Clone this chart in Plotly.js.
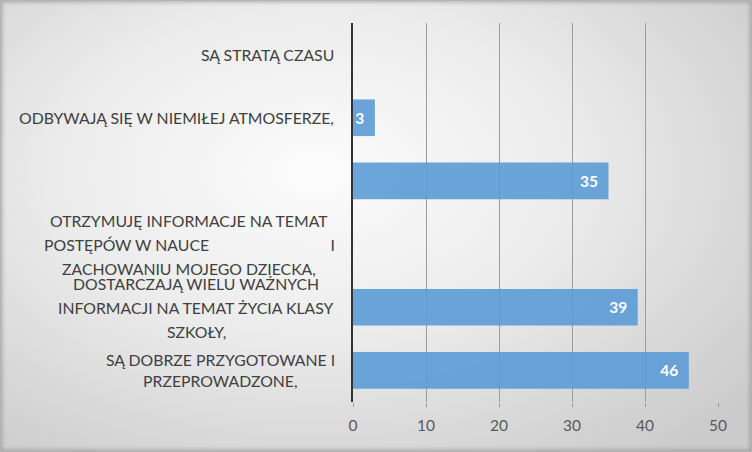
<!DOCTYPE html>
<html><head><meta charset="utf-8">
<script src="https://cdn.plot.ly/plotly-3.0.1.min.js"></script>
<style>
html,body{margin:0;padding:0;background:#fff;}
#wrap{position:relative;width:752px;height:452px;box-sizing:border-box;overflow:hidden;
  background:radial-gradient(ellipse 75% 80% at 42% 38%, #fcfcfc 0%, #ececec 45%, #d6d6d6 80%, #cbcbcb 100%);
  box-shadow: inset 0 0 0 1px #b4b4b4, inset 0 0 4px 2px rgba(120,120,120,0.55);}
#chart{position:absolute;left:0;top:0;width:752px;height:452px;}
</style></head><body>
<div id="wrap"><div id="chart"></div></div>
<script>
// ---- data ----
const categoryLines = [
  ['SĄ STRATĄ CZASU'],
  ['ODBYWAJĄ SIĘ W NIEMIŁEJ ATMOSFERZE,'],
  [],
  ['OTRZYMUJĘ INFORMACJE NA TEMAT',
   'POSTĘPÓW W NAUCE' + '\u00a0'.repeat(30) + 'I',
   'ZACHOWANIU MOJEGO DZIECKA,'],
  ['DOSTARCZAJĄ WIELU WAŻNYCH', 'INFORMACJI NA TEMAT ŻYCIA KLASY', 'SZKOŁY,'],
  ['SĄ DOBRZE PRZYGOTOWANE I', 'PRZEPROWADZONE,']
];
const values = [null, 3, 35, null, 39, 46];
const xTickValues = [0, 10, 20, 30, 40, 50];

// ---- build ----
const categories = categoryLines.map((l, i) => l.length ? l.join(' ') : ' '.repeat(i + 1));
const FONT = 'Lato, "Liberation Sans", sans-serif';
const LABEL_SIZE = 15.8;
const PLOT_LEFT = 353, LABEL_RIGHT = 335;

const cv = document.createElement('canvas').getContext('2d');
cv.font = LABEL_SIZE + 'px Lato';
const annotations = [];
categoryLines.forEach((lines, i) => {
  if (!lines.length) return;
  const maxW = Math.max(...lines.map(t => cv.measureText(t).width));
  const center = LABEL_RIGHT - maxW / 2;
  const n = lines.length;
  const sp = n > 2 ? 24 : 21;
  lines.forEach((t, j) => {
    annotations.push({
      xref: 'paper', yref: 'y', x: 0, y: categories[i],
      xanchor: 'center', yanchor: 'middle',
      xshift: center - PLOT_LEFT, yshift: -(j - (n - 1) / 2) * sp,
      text: t, showarrow: false,
      font: {family: FONT, size: LABEL_SIZE, color: '#404040'}
    });
  });
});

const trace = {
  type: 'bar', orientation: 'h',
  x: values, y: categories,
  marker: {color: 'rgba(91,155,213,0.9)', line: {width: 0}},
  texttemplate: '%{x}\u00a0\u00a0', textposition: 'inside', insidetextanchor: 'end',
  constraintext: 'none',
  textfont: {family: FONT, size: 15.5, color: '#ffffff', weight: 'bold'},
  hoverinfo: 'none'
};

const layout = {
  width: 752, height: 452,
  margin: {l: 353, r: 34, t: 23, b: 50},
  paper_bgcolor: 'rgba(0,0,0,0)', plot_bgcolor: 'rgba(0,0,0,0)',
  showlegend: false, bargap: 0.42,
  xaxis: {range: [0, 50], tickvals: xTickValues, showgrid: true,
          gridcolor: '#9c9c9c', gridwidth: 1, zeroline: false,
          ticks: 'outside', ticklen: 4, tickcolor: '#9c9c9c',
          ticklabelstandoff: 5,
          tickfont: {family: FONT, size: 15.5, color: '#595959'}, showline: false},
  yaxis: {type: 'category', autorange: 'reversed', showticklabels: false,
          showgrid: false, zeroline: false, showline: true,
          linecolor: '#333333', linewidth: 2, ticks: ''},
  annotations: annotations
};

Plotly.newPlot('chart', [trace], layout, {staticPlot: true, displayModeBar: false});
</script>
</body></html>
